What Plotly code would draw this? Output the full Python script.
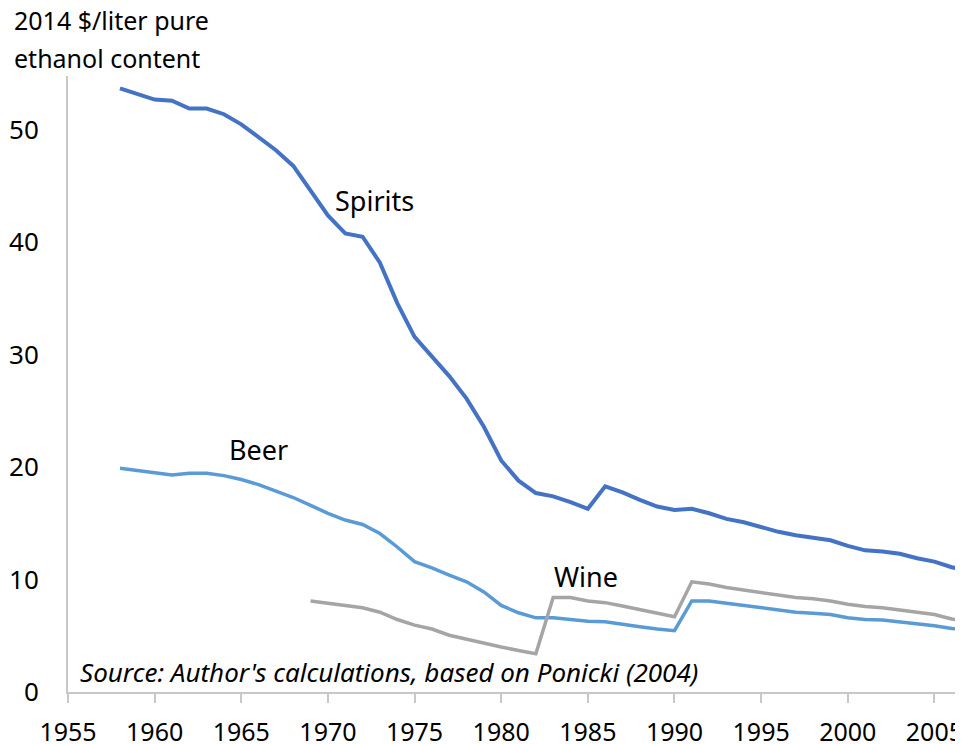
import plotly.graph_objects as go

years = list(range(1958, 2008))

spirits = [53.7, 53.2, 52.7, 52.6, 51.9, 51.9, 51.4, 50.5, 49.4, 48.2,
           46.8, 44.6, 42.4, 40.8, 40.5, 38.2, 34.6, 31.6, 29.9, 28.1,
           26.1, 23.6, 20.6, 18.8, 17.7, 17.4, 16.9, 16.3, 18.3, 17.75,
           17.1, 16.5, 16.2, 16.3, 15.9, 15.4, 15.1, 14.7, 14.25, 13.95,
           13.75, 13.5, 13.0, 12.6, 12.5, 12.3, 11.9, 11.6, 11.1, 10.8]

beer = [19.9, 19.7, 19.5, 19.3, 19.45, 19.45, 19.25, 18.9, 18.45, 17.9,
        17.3, 16.6, 15.9, 15.3, 14.9, 14.1, 12.9, 11.6, 11.05, 10.4,
        9.8, 8.9, 7.7, 7.05, 6.6, 6.6, 6.45, 6.3, 6.25, 6.0,
        5.8, 5.6, 5.45, 8.1, 8.1, 7.9, 7.7, 7.5, 7.25, 7.1,
        7.0, 6.9, 6.6, 6.45, 6.4, 6.25, 6.05, 5.9, 5.65, 5.5]

wine_years = list(range(1969, 2008))
wine = [8.1, 7.9, 7.7, 7.5, 7.1, 6.45, 5.95, 5.6, 5.05, 4.7,
        4.3, 4.0, 3.7, 3.4, 8.4, 8.4, 8.1, 7.95, 7.65, 7.35,
        7.0, 6.7, 9.8, 9.6, 9.3, 9.07, 8.85, 8.6, 8.4, 8.3,
        8.1, 7.8, 7.6, 7.5, 7.3, 7.1, 6.9, 6.5, 6.2]

x_ticks = [1955, 1960, 1965, 1970, 1975, 1980, 1985, 1990, 1995, 2000, 2005]
y_ticks = [0, 10, 20, 30, 40, 50]

FONT = "Noto Sans"
PLOT_W = 895
PLOT_H = 616
TOP = 68

fig = go.Figure()
fig.add_trace(go.Scatter(x=years, y=spirits, mode="lines", name="Spirits",
                         line=dict(color="#4472C4", width=4)))
fig.add_trace(go.Scatter(x=years, y=beer, mode="lines", name="Beer",
                         line=dict(color="#5B9BD5", width=3.5)))
fig.add_trace(go.Scatter(x=wine_years, y=wine, mode="lines", name="Wine",
                         line=dict(color="#A5A5A5", width=3.5)))

fig.update_layout(
    width=955, height=736,
    margin=dict(l=60, r=0, t=TOP, b=52),
    paper_bgcolor="white", plot_bgcolor="white",
    showlegend=False,
    font=dict(family=FONT, size=25, color="#000000"),
    xaxis=dict(range=[1955, 2006.65], tickvals=x_ticks,
               showgrid=False, zeroline=False, automargin=False,
               showline=True, linecolor="#C8C8C8", linewidth=2,
               ticks="outside", ticklen=9, tickwidth=2, tickcolor="#C8C8C8",
               ticklabelstandoff=8, ticklabeloverflow="allow",
               tickfont=dict(family=FONT, size=25)),
    yaxis=dict(range=[0, 54.8], tickvals=y_ticks,
               showgrid=False, zeroline=False, automargin=False,
               showline=True, linecolor="#C8C8C8", linewidth=2,
               ticks="", ticklabelstandoff=22,
               tickfont=dict(family=FONT, size=26)),
)

fig.add_annotation(xref="paper", yref="paper", x=-56 / PLOT_W, y=1 + (TOP - 12) / PLOT_H,
                   xanchor="left", yanchor="middle",
                   text="2014 $/liter pure",
                   showarrow=False, font=dict(family=FONT, size=25))
fig.add_annotation(xref="paper", yref="paper", x=-56 / PLOT_W, y=1 + (TOP - 50) / PLOT_H,
                   xanchor="left", yanchor="middle",
                   text="ethanol content",
                   showarrow=False, font=dict(family=FONT, size=25))
fig.add_annotation(x=1972.7, y=43.7, text="Spirits", showarrow=False,
                   font=dict(family=FONT, size=27))
fig.add_annotation(x=1966.0, y=21.6, text="Beer", showarrow=False,
                   font=dict(family=FONT, size=27))
fig.add_annotation(x=1984.9, y=10.3, text="Wine", showarrow=False,
                   font=dict(family=FONT, size=27))
fig.add_annotation(x=1955.6, y=1.8, xanchor="left",
                   text="<i>Source: Author's calculations, based on Ponicki (2004)</i>",
                   showarrow=False, font=dict(family=FONT, size=26))

fig.write_html("out.html")
